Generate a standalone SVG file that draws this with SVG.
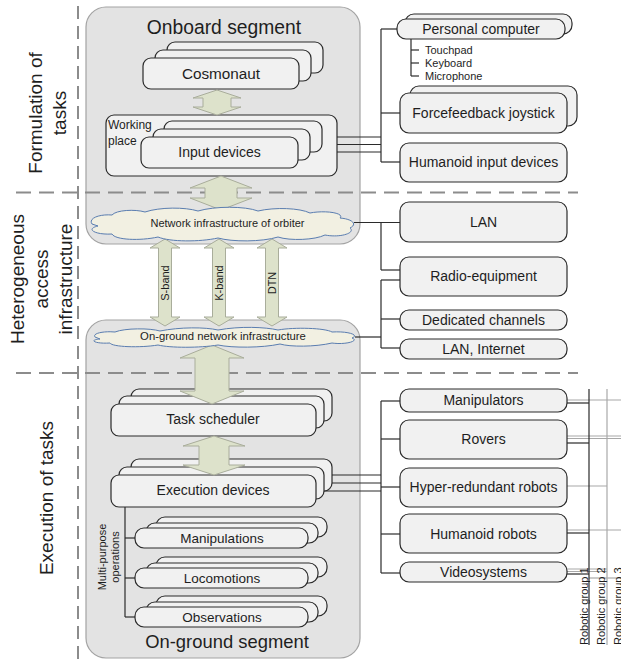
<svg xmlns="http://www.w3.org/2000/svg" width="621" height="659" viewBox="0 0 621 659">
  <style>
    text { font-family: "Liberation Sans", Arial, sans-serif; fill: #1e1e1e; }
    .segment { fill: #e3e3e3; stroke: #a3a3a3; stroke-width: 1.2; }
    .card { fill: #f1f1f1; stroke: #2b2b2b; stroke-width: 1.2; }
    .dash { stroke: #8c8c8c; stroke-width: 2; fill: none; }
    .arrow { fill: #dde2cb; stroke: #a9ad9b; stroke-width: 1; }
    .cloud { fill: #f2f0e2; stroke: #5a7db0; stroke-width: 1; }
    .wire { stroke: #2b2b2b; stroke-width: 1.2; fill: none; }
    .wire-g { stroke: #a8a8a8; stroke-width: 1.2; fill: none; }
    .lbl { font-size: 14px; text-anchor: middle; }
    .side { font-size: 19px; text-anchor: middle; }
    .small { font-size: 11px; }
  </style>

  <!-- segment backgrounds -->
  <g id="onboard-segment">
    <rect class="segment" x="86" y="7" width="274" height="237" rx="20"/>
    <text x="224" y="34" style="font-size:19.3px;text-anchor:middle">Onboard segment</text>
  </g>
  <g id="onground-segment">
    <rect class="segment" x="86" y="320" width="274" height="338" rx="20"/>
    <text x="227" y="648" style="font-size:18.4px;text-anchor:middle">On-ground segment</text>
  </g>

  <!-- layer separators -->
  <g id="separators">
    <line class="dash" x1="78" y1="6" x2="78" y2="659" stroke-dasharray="13 7"/>
    <line class="dash" x1="16" y1="192.5" x2="578" y2="192.5" stroke-dasharray="15 8"/>
    <line class="dash" x1="16" y1="373" x2="578" y2="373" stroke-dasharray="15 8"/>
  </g>

  <!-- layer captions -->
  <g id="layer-formulation">
    <g transform="translate(42,113) rotate(-90)">
      <text class="side" x="0" y="0">Formulation of</text>
      <text class="side" x="0" y="24">tasks</text>
    </g>
  </g>
  <g id="layer-access">
    <g transform="translate(24,279) rotate(-90)">
      <text class="side" x="0" y="0">Heterogeneous</text>
      <text class="side" x="0" y="24">access</text>
      <text class="side" x="0" y="48">infrastructure</text>
    </g>
  </g>
  <g id="layer-execution">
    <text class="side" transform="translate(53,498) rotate(-90)">Execution of tasks</text>
  </g>

  <!-- connectors -->
  <g id="connectors">
    <!-- input devices to hardware -->
    <line class="wire" x1="322" y1="137" x2="381" y2="137"/>
    <line class="wire" x1="310" y1="144.5" x2="381" y2="144.5"/>
    <line class="wire" x1="298" y1="152" x2="381" y2="152"/>
    <line class="wire" x1="381" y1="29" x2="381" y2="162"/>
    <line class="wire" x1="381" y1="29" x2="397" y2="29"/>
    <line class="wire" x1="381" y1="113" x2="400" y2="113"/>
    <line class="wire" x1="381" y1="162" x2="400" y2="162"/>
    <!-- personal computer peripherals -->
    <line class="wire" x1="411" y1="39" x2="411" y2="76"/>
    <line class="wire" x1="411" y1="50" x2="419" y2="50"/>
    <line class="wire" x1="411" y1="63" x2="419" y2="63"/>
    <line class="wire" x1="411" y1="76" x2="419" y2="76"/>
    <!-- orbiter network -->
    <line class="wire" x1="354" y1="222.5" x2="400" y2="222.5"/>
    <line class="wire" x1="381" y1="222.5" x2="381" y2="270"/>
    <line class="wire" x1="381" y1="270" x2="400" y2="270"/>
    <!-- ground network -->
    <line class="wire" x1="355" y1="337" x2="381" y2="337"/>
    <line class="wire" x1="381" y1="280" x2="381" y2="348"/>
    <line class="wire" x1="381" y1="280" x2="400" y2="280"/>
    <line class="wire" x1="381" y1="319" x2="400" y2="319"/>
    <line class="wire" x1="381" y1="348" x2="400" y2="348"/>
    <!-- execution devices to robots -->
    <line class="wire" x1="332" y1="475" x2="381" y2="475"/>
    <line class="wire" x1="324" y1="483" x2="381" y2="483"/>
    <line class="wire" x1="316" y1="491" x2="381" y2="491"/>
    <line class="wire" x1="381" y1="401" x2="381" y2="573"/>
    <line class="wire" x1="381" y1="401" x2="400" y2="401"/>
    <line class="wire" x1="381" y1="439" x2="400" y2="439"/>
    <line class="wire" x1="381" y1="487" x2="400" y2="487"/>
    <line class="wire" x1="381" y1="534" x2="400" y2="534"/>
    <line class="wire" x1="381" y1="573" x2="400" y2="573"/>
    <!-- multi-purpose operations -->
    <line class="wire" x1="125" y1="507" x2="125" y2="617"/>
    <line class="wire" x1="125" y1="538" x2="135" y2="538"/>
    <line class="wire" x1="125" y1="578" x2="135" y2="578"/>
    <line class="wire" x1="125" y1="617" x2="135" y2="617"/>
    <!-- robotic groups -->
    <line class="wire-g" x1="567" y1="400" x2="621" y2="400"/>
    <line class="wire-g" x1="567" y1="436" x2="621" y2="436"/>
    <line class="wire-g" x1="567" y1="438.5" x2="621" y2="438.5"/>
    <line class="wire-g" x1="567" y1="486" x2="607" y2="486"/>
    <line class="wire-g" x1="567" y1="530" x2="621" y2="530"/>
    <line class="wire-g" x1="567" y1="569" x2="607" y2="569"/>
    <line class="wire-g" x1="567" y1="571.5" x2="607" y2="571.5"/>
    <line class="wire-g" x1="607" y1="389" x2="607" y2="645"/>
    <line class="wire-g" x1="589" y1="578" x2="621" y2="578"/>
    <line class="wire" x1="567" y1="403" x2="589" y2="403"/>
    <line class="wire" x1="567" y1="443" x2="589" y2="443"/>
    <line class="wire" x1="567" y1="533" x2="589" y2="533"/>
    <line class="wire" x1="567" y1="574" x2="589" y2="574"/>
    <line class="wire" x1="589" y1="389" x2="589" y2="645"/>
  </g>

  <!-- onboard nodes -->
  <g id="cosmonaut">
    <rect class="card" x="167" y="42" width="156" height="31" rx="8"/>
    <rect class="card" x="155" y="50" width="156" height="31" rx="8"/>
    <rect class="card" x="143" y="58" width="156" height="31" rx="8"/>
    <text x="221" y="79" style="font-size:15.3px;text-anchor:middle">Cosmonaut</text>
  </g>
  <g id="working-place">
    <rect class="card" x="106" y="115" width="231" height="61" rx="8"/>
    <text class="small" x="108" y="129" style="font-size:12px">Working</text>
    <text class="small" x="108" y="145" style="font-size:12px">place</text>
  </g>
  <g id="input-devices">
    <rect class="card" x="164" y="121" width="158" height="31" rx="8"/>
    <rect class="card" x="153" y="129" width="157" height="31" rx="8"/>
    <rect class="card" x="141" y="137" width="157" height="31" rx="8"/>
    <text class="lbl" x="219.5" y="157">Input devices</text>
  </g>

  <!-- ground nodes -->
  <g id="task-scheduler">
    <rect class="card" x="131" y="389" width="201" height="32" rx="8"/>
    <rect class="card" x="119" y="396" width="205" height="32" rx="8"/>
    <rect class="card" x="111" y="404" width="205" height="32" rx="8"/>
    <text class="lbl" x="213" y="424">Task scheduler</text>
  </g>
  <g id="execution-devices">
    <rect class="card" x="131" y="459" width="201" height="32" rx="8"/>
    <rect class="card" x="119" y="467" width="205" height="32" rx="8"/>
    <rect class="card" x="111" y="475" width="205" height="32" rx="8"/>
    <text class="lbl" x="213" y="495">Execution devices</text>
  </g>
  <g id="multi-purpose-label">
    <g transform="translate(106,557) rotate(-90)">
      <text class="small" x="0" y="0" text-anchor="middle">Multi-purpose</text>
      <text class="small" x="0" y="13" text-anchor="middle">operations</text>
    </g>
  </g>
  <g id="manipulations">
    <rect class="card" x="156" y="517" width="171" height="20" rx="9"/>
    <rect class="card" x="146" y="523" width="172" height="20" rx="9"/>
    <rect class="card" x="135" y="528" width="173" height="20" rx="9"/>
    <text x="222" y="543" style="font-size:13.5px;text-anchor:middle">Manipulations</text>
  </g>
  <g id="locomotions">
    <rect class="card" x="156" y="557" width="171" height="20" rx="9"/>
    <rect class="card" x="146" y="563" width="172" height="20" rx="9"/>
    <rect class="card" x="135" y="568" width="173" height="20" rx="9"/>
    <text x="222" y="582.5" style="font-size:13.5px;text-anchor:middle">Locomotions</text>
  </g>
  <g id="observations">
    <rect class="card" x="156" y="596" width="171" height="20" rx="9"/>
    <rect class="card" x="146" y="602" width="172" height="20" rx="9"/>
    <rect class="card" x="135" y="607" width="173" height="20" rx="9"/>
    <text x="222" y="621.5" style="font-size:13.5px;text-anchor:middle">Observations</text>
  </g>

  <!-- double arrows -->
  <g id="flows">
    <path class="arrow" d="M217 90 L241 98 L231 98 L231 107 L241 107 L217 115 L193 107 L203 107 L203 98 L193 98 Z"/>
    <path class="arrow" d="M221 176 L252 188 L237 188 L237 198 L252 198 L221 210 L190 198 L205 198 L205 188 L190 188 Z"/>
    <path class="arrow" d="M165 239 L180 248 L171.5 248 L171.5 317 L180 317 L165 326 L150 317 L158.5 317 L158.5 248 L150 248 Z"/>
    <path class="arrow" d="M219 239 L234 248 L225.5 248 L225.5 317 L234 317 L219 326 L204 317 L212.5 317 L212.5 248 L204 248 Z"/>
    <path class="arrow" d="M272 239 L287 248 L278.5 248 L278.5 317 L287 317 L272 326 L257 317 L265.5 317 L265.5 248 L257 248 Z"/>
    <path class="arrow" d="M212 345 L244 358 L229 358 L229 391 L244 391 L212 404 L180 391 L195 391 L195 358 L180 358 Z"/>
    <path class="arrow" d="M214 436 L245 446 L229 446 L229 465 L245 465 L214 475 L183 465 L199 465 L199 446 L183 446 Z"/>
    <text class="small" transform="translate(169,283) rotate(-90)" text-anchor="middle">S-band</text>
    <text class="small" transform="translate(223,283) rotate(-90)" text-anchor="middle">K-band</text>
    <text class="small" transform="translate(276,283) rotate(-90)" text-anchor="middle">DTN</text>
  </g>

  <!-- networks -->
  <g id="orbiter-network">
    <path class="cloud" d="M92 224 C88 218 100 214 112 215 C116 210 135 209 145 212 C160 207 185 207 198 211 C215 206 245 206 258 211 C275 207 300 208 310 213 C325 210 345 213 340 218 C352 219 358 224 350 228 C356 233 340 238 325 235 C315 240 290 241 278 237 C262 242 232 242 218 238 C200 242 170 242 158 237 C140 241 115 240 112 234 C95 235 85 229 98 226 Z"/>
    <text x="227.5" y="227" style="font-size:11px;text-anchor:middle">Network infrastructure of orbiter</text>
  </g>
  <g id="ground-network">
    <path class="cloud" d="M95 337 C92 333 105 331 115 332 C125 328 150 328 160 331 C180 327 205 327 218 330 C240 326 265 327 278 330 C295 327 325 328 332 332 C348 331 360 335 352 338 C360 341 345 345 332 343 C315 347 290 347 280 344 C262 348 232 348 218 345 C200 348 170 348 158 345 C140 348 112 347 110 343 C95 344 88 340 100 339 Z"/>
    <text x="223" y="339.5" style="font-size:11.3px;text-anchor:middle">On-ground network infrastructure</text>
  </g>

  <!-- hardware of the workplace -->
  <g id="personal-computer">
    <rect class="card" x="405" y="14" width="167" height="20" rx="9"/>
    <rect class="card" x="397" y="19" width="168" height="20" rx="9"/>
    <text class="lbl" x="481" y="34">Personal computer</text>
    <text class="small" x="425" y="54">Touchpad</text>
    <text class="small" x="425" y="67">Keyboard</text>
    <text class="small" x="425" y="80">Microphone</text>
  </g>
  <g id="forcefeedback-joystick">
    <rect class="card" x="410" y="86" width="167" height="40" rx="9"/>
    <rect class="card" x="400" y="93" width="167" height="40" rx="9"/>
    <text class="lbl" x="483.5" y="118">Forcefeedback joystick</text>
  </g>
  <g id="humanoid-input-devices">
    <rect class="card" x="400" y="143" width="167" height="39" rx="9"/>
    <text class="lbl" x="483.5" y="167">Humanoid input devices</text>
  </g>

  <!-- access equipment -->
  <g id="lan">
    <rect class="card" x="400" y="202" width="167" height="40" rx="9"/>
    <text class="lbl" x="483.5" y="227">LAN</text>
  </g>
  <g id="radio-equipment">
    <rect class="card" x="400" y="257" width="167" height="39" rx="9"/>
    <text class="lbl" x="483.5" y="281">Radio-equipment</text>
  </g>
  <g id="dedicated-channels">
    <rect class="card" x="400" y="310" width="167" height="20" rx="9"/>
    <text class="lbl" x="483.5" y="324.5">Dedicated channels</text>
  </g>
  <g id="lan-internet">
    <rect class="card" x="400" y="339" width="167" height="20" rx="9"/>
    <text class="lbl" x="483.5" y="353.5">LAN, Internet</text>
  </g>

  <!-- robots -->
  <g id="manipulators">
    <rect class="card" x="400" y="389" width="167" height="23" rx="9"/>
    <text class="lbl" x="483.5" y="405">Manipulators</text>
  </g>
  <g id="rovers">
    <rect class="card" x="400" y="420" width="167" height="39" rx="9"/>
    <text class="lbl" x="483.5" y="444">Rovers</text>
  </g>
  <g id="hyper-redundant-robots">
    <rect class="card" x="400" y="468" width="167" height="39" rx="9"/>
    <text class="lbl" x="483.5" y="492">Hyper-redundant robots</text>
  </g>
  <g id="humanoid-robots">
    <rect class="card" x="400" y="514" width="167" height="39" rx="9"/>
    <text class="lbl" x="483.5" y="539">Humanoid robots</text>
  </g>
  <g id="videosystems">
    <rect class="card" x="400" y="562" width="167" height="20" rx="9"/>
    <text class="lbl" x="483.5" y="577">Videosystems</text>
  </g>

  <!-- robotic group captions -->
  <g id="robotic-groups">
    <text class="small" transform="translate(587.5,645) rotate(-90)">Robotic group 1</text>
    <text class="small" transform="translate(604.5,645) rotate(-90)">Robotic group 2</text>
    <text class="small" transform="translate(621.5,645) rotate(-90)">Robotic group 3</text>
  </g>
</svg>
